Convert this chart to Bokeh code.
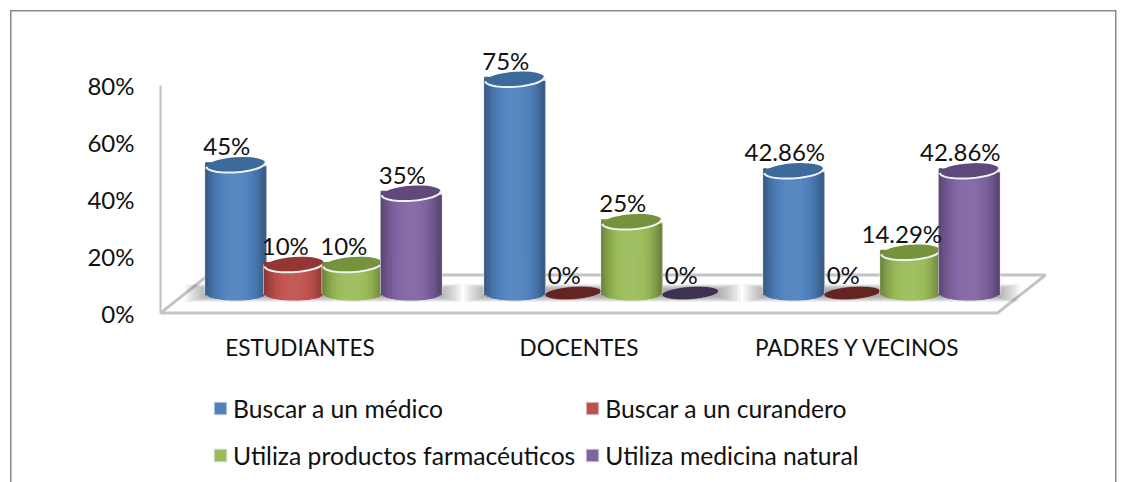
import math
from bokeh.embed import file_html
from bokeh.resources import INLINE
from bokeh.plotting import figure
from bokeh.models import Range1d, LinearAxis, FixedTicker, ColumnDataSource, Legend, LegendItem
from bokeh.core.properties import value

categories = ["ESTUDIANTES", "DOCENTES", "PADRES Y VECINOS"]
series_names = ["Buscar a un médico", "Buscar a un curandero",
                "Utiliza productos farmacéuticos", "Utiliza medicina natural"]
medico = [45, 75, 42.86]
curandero = [10, 0, 0]
farmaceuticos = [10, 25, 14.29]
natural = [35, 0, 42.86]
labels_medico = ["45%", "75%", "42.86%"]
labels_curandero = ["10%", "0%", "0%"]
labels_farmaceuticos = ["10%", "25%", "14.29%"]
labels_natural = ["35%", "0%", "42.86%"]
y_ticks = [0, 20, 40, 60, 80]

series_values = [medico, curandero, farmaceuticos, natural]
series_labels = [labels_medico, labels_curandero, labels_farmaceuticos, labels_natural]
base_colors = ["#4f81bd", "#c0504d", "#9bbb59", "#8064a2"]
top_colors = ["#3c6a9b", "#943634", "#76923c", "#5f497a"]
flat_colors = ["#3c6a9b", "#632423", "#76923c", "#3f3151"]

FONT = "Lato"
CAT_PX = 279.0
PX_PER_PCT = 2.85
FRAME_W, FRAME_H = 969, 482
FLOOR_PY = 312.5
FLOOR_DX, FLOOR_DY = 48.0, 38.0
BAR_SHIFT = 23.5
STEP = 58.5
HW = 30.0
RY_TOP, RY_BOT = 7.5, 7.0
TILT = math.radians(4)


def hex2rgb(c):
    return tuple(int(c[i:i + 2], 16) for i in (1, 3, 5))


def shade(c, f):
    r = hex2rgb(c)
    if f >= 1:
        r = tuple(v + (255 - v) * (f - 1) for v in r)
    else:
        r = tuple(v * f for v in r)
    return "#%02x%02x%02x" % tuple(int(round(v)) for v in r)


px_x = lambda px: px / CAT_PX
px_y = lambda px: px / PX_PER_PCT

BORDER = "#8a8a8a"
css_bg = (f"linear-gradient({BORDER},{BORDER}) 9.5px 9.5px/1.5px 100% no-repeat,"
          f"linear-gradient({BORDER},{BORDER}) 9.5px 9.5px/1106px 1.5px no-repeat,"
          f"linear-gradient({BORDER},{BORDER}) 1115px 9.5px/1.5px 100% no-repeat")

p = figure(width=1129, height=482, frame_width=FRAME_W, frame_height=FRAME_H,
           x_range=Range1d(0, FRAME_W / CAT_PX),
           y_range=Range1d((FLOOR_PY - FRAME_H) / PX_PER_PCT, FLOOR_PY / PX_PER_PCT),
           output_backend="svg", toolbar_location=None,
           min_border_left=160, min_border_right=0, min_border_top=0, min_border_bottom=0,
           x_axis_type=None, y_axis_type=None,
           background_fill_alpha=0, border_fill_alpha=0,
           outline_line_color=None, styles={"background": css_bg})
p.grid.visible = False
# bars stand further back on the floor than the front plane of the axis
back = 20.0
p.extra_y_ranges["bars"] = Range1d((FLOOR_PY - back - FRAME_H) / PX_PER_PCT, (FLOOR_PY - back) / PX_PER_PCT)

yaxis = LinearAxis(ticker=FixedTicker(ticks=y_ticks), bounds=(0, 80),
                   major_label_overrides={t: f"{t}%" for t in y_ticks})
yaxis.axis_line_color = "#bfbfbf"
yaxis.axis_line_width = 2
yaxis.major_tick_line_color = None
yaxis.minor_tick_line_color = None
yaxis.major_label_standoff = 20
yaxis.major_label_text_font = FONT
yaxis.major_label_text_font_size = "24px"
yaxis.major_label_text_color = "#111111"
p.add_layout(yaxis, "left")

# category labels
cat_x = [i + 0.5 for i in range(len(categories))]
p.text(x=cat_x, y=[0] * len(categories), text=categories, y_offset=34.5, text_align="center",
       text_baseline="middle", text_font=value(FONT), text_font_size="22.5px", text_color="#111111")

# floor
n = len(categories)
fx = [0, px_x(FLOOR_DX), n + px_x(FLOOR_DX), n, 0]
fy = [0, px_y(FLOOR_DY), px_y(FLOOR_DY), 0, 0]
p.line(fx, fy, line_color="#c4c4c4", line_width=3)

# soft floor shadows per cluster
for i in range(n):
    c = i + 0.5 + px_x(BAR_SHIFT)
    for k in range(8):
        half = 138 - k * 3.0
        hh = 9 - k * 0.7
        p.quad(left=[c - px_x(half)], right=[c + px_x(half)], bottom=[-px_y(hh)], top=[px_y(hh)],
               y_range_name="bars", fill_color="#303030", fill_alpha=0.06, line_color=None)

# cylinders
NSTRIP = 26
for j, vals in enumerate(series_values):
    for i, v in enumerate(vals):
        cx = i + 0.5 + px_x(BAR_SHIFT + (j - 1.5) * STEP)
        if v == 0:
            p.ellipse(x=[cx], y=[0], width=57, height=13, width_units="screen", height_units="screen",
                      angle=TILT, fill_color=flat_colors[j], line_color="#cfcfcf", line_alpha=0.6, line_width=1,
                      y_range_name="bars")
            continue
        # light halo behind the body
        p.quad(left=[cx - px_x(HW + 1.2)], right=[cx + px_x(HW + 1.2)], bottom=[0], top=[v], y_range_name="bars",
               fill_color="#e4e4e4", line_color=None)
        p.ellipse(x=[cx], y=[0], width=2 * HW + 2.4, height=2 * RY_BOT + 3, width_units="screen",
                  height_units="screen", y_range_name="bars", fill_color="#e4e4e4", line_color=None)
        l, r, b, t, col = [], [], [], [], []
        for s in range(NSTRIP):
            t0 = -1 + 2 * s / NSTRIP
            t1 = -1 + 2 * (s + 1) / NSTRIP
            tm = (t0 + t1) / 2
            f = 0.68 + 0.38 * (1 - abs(tm) ** 2.4)
            l.append(cx + px_x(HW) * t0)
            r.append(cx + px_x(HW) * t1)
            b.append(-px_y(RY_BOT) * math.sqrt(max(0, 1 - tm * tm)))
            t.append(v - px_y(HW * math.tan(TILT)) * tm)
            col.append(shade(base_colors[j], f))
        p.quad(left=l, right=r, bottom=b, top=t, y_range_name="bars", fill_color=col, line_color=col,
               line_width=1.2)
        p.ellipse(x=[cx], y=[v], width=2 * HW - 1, height=2 * RY_TOP, width_units="screen", height_units="screen",
                  angle=TILT, fill_color=top_colors[j], line_color=None, y_range_name="bars")
        # pale rim along the front of the top
        ts = [math.pi + math.pi * q / 30 for q in range(31)]
        rx = [cx + px_x((HW - 0.5) * math.cos(a) * math.cos(TILT) - RY_TOP * math.sin(a) * math.sin(TILT)) for a in ts]
        ry = [v + px_y((HW - 0.5) * math.cos(a) * math.sin(TILT) + RY_TOP * math.sin(a) * math.cos(TILT)) for a in ts]
        p.line(rx, ry, y_range_name="bars", line_color="#eef2f6", line_width=2)

# data labels
for j, (vals, labs) in enumerate(zip(series_values, series_labels)):
    xs = [i + 0.5 + px_x(BAR_SHIFT + (j - 1.5) * STEP) for i in range(len(vals))]
    src = ColumnDataSource(dict(x=xs, y=vals, t=labs))
    p.text(x="x", y="y", text="t", source=src, y_range_name="bars", x_offset=-9, y_offset=-19,
           text_align="center", text_baseline="middle", text_font=value(FONT), text_font_size="24px",
           text_color="#111111")

# legend: items fill column by column, so list them to read across the rows
swatch = {}
for name, c in zip(series_names, base_colors):
    swatch[name] = p.quad(left=[0], right=[0], bottom=[0], top=[0], fill_color=c, line_color="#dfe6ee", line_width=1)
order = [series_names[0], series_names[2], series_names[1], series_names[3]]
items = [LegendItem(label=name, renderers=[swatch[name]]) for name in order]
legend = Legend(items=items, ncols=2, location=(52, 8), glyph_width=16, glyph_height=16, label_standoff=5,
                label_height=38, spacing=10, padding=0, margin=0, border_line_color=None,
                background_fill_alpha=0, label_text_font=FONT, label_text_font_size="24.7px",
                label_text_color="#111111", label_text_baseline="middle")
legend.spacing = 9
p.add_layout(legend, "center")

open("out.html", "w").write(file_html(p, INLINE))
